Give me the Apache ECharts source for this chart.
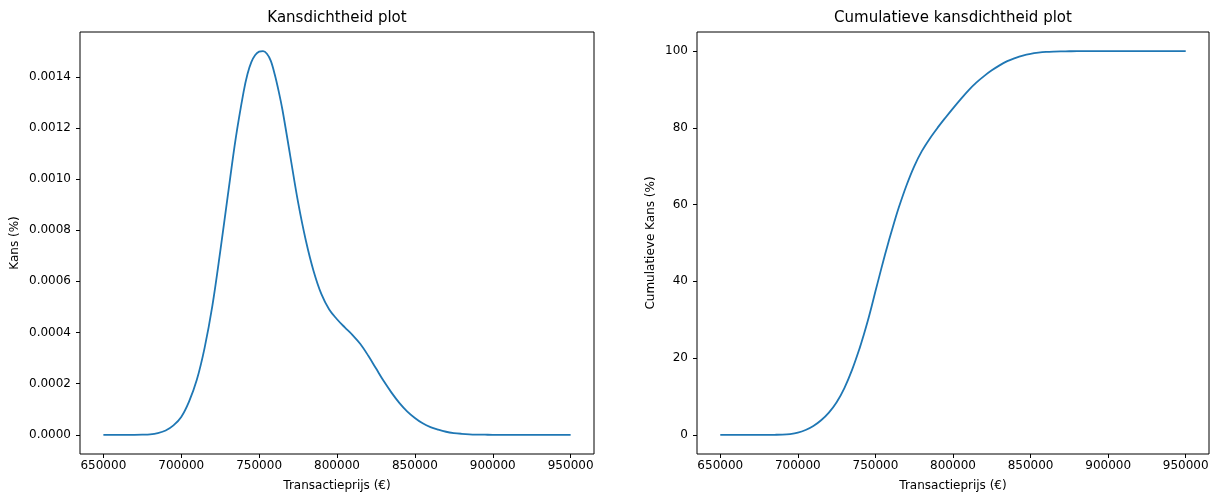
<!DOCTYPE html>
<html>
<head>
<meta charset="utf-8">
<script src="https://cdn.jsdelivr.net/npm/echarts@6/dist/echarts.min.js"></script>
<style>
html,body{margin:0;padding:0;background:#fff;}
#chart{width:1216px;height:492px;}
</style>
</head>
<body>
<div id="chart"></div>
<script>
// Transaction price grid (€)
const prices = [650000,655000,660000,665000,670000,675000,680000,685000,690000,695000,
  700000,705000,710000,715000,720000,725000,730000,735000,740000,742500,745000,
  747500,750000,752500,755000,757500,760000,762500,765000,770000,775000,780000,785000,790000,795000,
  800000,805000,810000,815000,820000,825000,830000,835000,840000,845000,
  850000,855000,860000,865000,870000,875000,880000,885000,890000,895000,
  900000,905000,910000,915000,920000,925000,930000,935000,940000,945000,950000];

// Density values ("Kans (%)")
const density = [0,0,0,0,0,0.0000005,0.000002,0.000007,0.000017,0.000037,
  0.00007,0.00013,0.000215,0.00034,0.000505,0.000715,0.00094,0.00116,0.00134,0.00141,0.001457,
  0.001485,0.001498,0.0015,0.00149,0.001462,0.00141,0.001345,0.00127,0.00109,0.00091,0.00076,0.00064,0.00055,0.00049,
  0.000452,0.00042,0.00039,0.000355,0.00031,0.00026,0.00021,0.000165,0.000125,0.000092,
  0.000066,0.000045,0.00003,0.00002,0.000012,0.000007,0.000004,0.000002,0.000001,0.0000005,
  0,0,0,0,0,0,0,0,0,0,0];

// Cumulative values ("Cumulatieve Kans (%)")
const cumulative = [0,0,0,0,0,0,0,0.01,0.05,0.2,
  0.55,1.25,2.3,3.8,5.8,8.5,12.2,17.0,22.8,26.1,29.6,
  33.4,37.4,41.3,45.2,48.9,52.5,55.9,59.2,65.0,70.0,74.0,77.2,80.0,82.6,
  85.1,87.5,89.8,91.8,93.5,95.0,96.3,97.4,98.2,98.85,
  99.3,99.6,99.8,99.9,99.95,99.98,100,100,100,100,
  100,100,100,100,100,100,100,100,100,100,100];

const xTicks = [650000,700000,750000,800000,850000,900000,950000];
const densityTicks = [0,0.0002,0.0004,0.0006,0.0008,0.0010,0.0012,0.0014];
const cumulativeTicks = [0,20,40,60,80,100];

const titles = ['Kansdichtheid plot','Cumulatieve kansdichtheid plot'];
const xName = 'Transactieprijs (€)';
const yNames = ['Kans (%)','Cumulatieve Kans (%)'];

const FONT = 'DejaVu Sans';
const txt = '#000';

function xAxisDef(gi){
  return {
    type:'value', gridIndex:gi, min:635000, max:965000,
    name:xName, nameLocation:'middle', nameGap:26,
    nameTextStyle:{fontFamily:FONT,fontSize:12,color:txt},
    axisLine:{show:false,onZero:false},
    axisTick:{show:true,length:4,inside:false,customValues:xTicks,lineStyle:{color:'#000',width:1}},
    axisLabel:{show:true,customValues:xTicks,margin:6,fontFamily:FONT,fontSize:12,color:txt,
      formatter:v=>String(v)},
    splitLine:{show:false}
  };
}
function yAxisDef(gi,min,max,ticks,fmt,gap){
  return {
    type:'value', gridIndex:gi, min:min, max:max,
    name:yNames[gi], nameLocation:'middle', nameGap:gap,
    nameTextStyle:{fontFamily:FONT,fontSize:12,color:txt},
    axisLine:{show:false,onZero:false},
    axisTick:{show:true,length:4,inside:false,customValues:ticks,lineStyle:{color:'#000',width:1}},
    axisLabel:{show:true,customValues:ticks,margin:9,fontFamily:FONT,fontSize:12,color:txt,formatter:fmt},
    splitLine:{show:false}
  };
}

const chart = echarts.init(document.getElementById('chart'),null,{renderer:'canvas'});
chart.setOption({
  animation:false,
  backgroundColor:'#fff',
  title:[
    {text:titles[0],left:337,top:11,textAlign:'center',padding:0,
      textStyle:{fontFamily:FONT,fontSize:15,fontWeight:'normal',color:txt}},
    {text:titles[1],left:953,top:11,textAlign:'center',padding:0,
      textStyle:{fontFamily:FONT,fontSize:15,fontWeight:'normal',color:txt}}
  ],
  grid:[
    {left:80,top:32,width:514,height:422,show:true,borderColor:'#000',borderWidth:1,
      backgroundColor:'transparent',containLabel:false,outerBoundsMode:'none'},
    {left:697,top:32,width:512,height:422,show:true,borderColor:'#000',borderWidth:1,
      backgroundColor:'transparent',containLabel:false,outerBoundsMode:'none'}
  ],
  xAxis:[xAxisDef(0),xAxisDef(1)],
  yAxis:[
    yAxisDef(0,-0.000075,0.001575,densityTicks,v=>v.toFixed(4),59),
    yAxisDef(1,-5,105,cumulativeTicks,v=>String(Math.round(v)),40)
  ],
  series:[
    {type:'line',xAxisIndex:0,yAxisIndex:0,showSymbol:false,smooth:0.35,
      lineStyle:{color:'#1f77b4',width:1.8},
      data:prices.map((p,i)=>[p,density[i]])},
    {type:'line',xAxisIndex:1,yAxisIndex:1,showSymbol:false,smooth:0.35,
      lineStyle:{color:'#1f77b4',width:1.8},
      data:prices.map((p,i)=>[p,cumulative[i]])}
  ]
});
</script>
</body>
</html>
